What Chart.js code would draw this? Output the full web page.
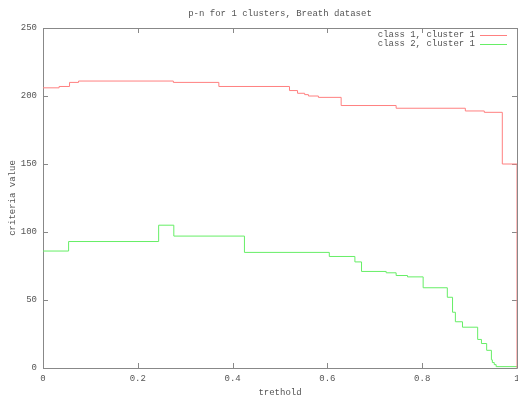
<!DOCTYPE html>
<html>
<head>
<meta charset="UTF-8">
<title>p-n for 1 clusters, Breath dataset</title>
<script src="https://cdn.jsdelivr.net/npm/chart.js"></script>
<style>
  html, body { margin: 0; padding: 0; background: #fff; }
  canvas { display: block; }
</style>
</head>
<body>
<canvas id="chart" width="518" height="398"></canvas>
<script>
  // step breakpoints (x where the new value starts) and values
  const class1X = [0, 0.034, 0.056, 0.075, 0.275, 0.371, 0.52, 0.537, 0.552, 0.56, 0.581, 0.629, 0.745, 0.891, 0.931, 0.969, 1, 1];
  const class1Y = [206, 207, 210, 211, 210, 207, 204, 202, 201, 200, 199, 193, 191, 189, 188, 150, 150, 0];
  const class2X = [0, 0.054, 0.244, 0.276, 0.425, 0.604, 0.658, 0.672, 0.724, 0.745, 0.769, 0.802, 0.853, 0.864, 0.87, 0.885, 0.917, 0.925, 0.936, 0.946, 0.948, 0.952, 0.956, 1];
  const class2Y = [86, 93, 105, 97, 85, 82, 78, 71, 70, 68, 67, 59, 52, 41, 34, 30, 21, 18, 13, 6, 4, 2.5, 1, 1];
  const labels = ['class 1, cluster 1', 'class 2, cluster 1'];
  const xTicks = [0, 0.2, 0.4, 0.6, 0.8, 1];
  const yTicks = [0, 50, 100, 150, 200, 250];

  const FONT = '"Liberation Mono", "DejaVu Sans Mono", monospace';
  const TXT = '#555';

  const pts = (xs, ys) => xs.map((x, i) => ({ x: x, y: ys[i] }));

  // gnuplot style box with inward ticks (under the lines), then title and legend on top
  const gnuplotFrame = {
    id: 'gnuplotFrame',
    beforeDatasetsDraw(chart) {
      const ctx = chart.ctx, a = chart.chartArea;
      const xs = chart.scales.x, ys = chart.scales.y;
      ctx.save();
      ctx.strokeStyle = '#888';
      ctx.lineWidth = 1;
      ctx.beginPath();
      ctx.rect(Math.round(a.left) + 0.5, Math.round(a.top) + 0.5,
               Math.round(a.right - a.left), Math.round(a.bottom - a.top));
      xTicks.forEach(v => {
        const px = Math.round(xs.getPixelForValue(v)) + 0.5;
        ctx.moveTo(px, a.bottom); ctx.lineTo(px, a.bottom - 5);
        ctx.moveTo(px, a.top); ctx.lineTo(px, a.top + 5);
      });
      yTicks.forEach(v => {
        const py = Math.round(ys.getPixelForValue(v)) + 0.5;
        ctx.moveTo(a.left, py); ctx.lineTo(a.left + 5, py);
        ctx.moveTo(a.right, py); ctx.lineTo(a.right - 5, py);
      });
      ctx.stroke();
      ctx.restore();
    },
    afterDraw(chart) {
      const ctx = chart.ctx, a = chart.chartArea;
      ctx.save();
      ctx.font = '9px ' + FONT;
      ctx.fillStyle = TXT;
      ctx.textAlign = 'center';
      ctx.textBaseline = 'middle';
      ctx.fillText('p-n for 1 clusters, Breath dataset', (a.left + a.right) / 2, 14);

      chart.data.datasets.forEach((ds, i) => {
        const y = 35 + i * 9;
        ctx.textAlign = 'right';
        ctx.fillStyle = TXT;
        ctx.fillText(ds.label, 475, y);
        ctx.strokeStyle = ds.borderColor;
        ctx.lineWidth = 1;
        ctx.beginPath();
        ctx.moveTo(480, y + 0.5); ctx.lineTo(507, y + 0.5);
        ctx.stroke();
      });
      ctx.restore();
    }
  };

  new Chart(document.getElementById('chart'), {
    type: 'line',
    data: {
      datasets: [
        { label: labels[0], data: pts(class1X, class1Y), borderColor: '#ff8080', borderWidth: 1, stepped: 'before', pointRadius: 0, fill: false },
        { label: labels[1], data: pts(class2X, class2Y), borderColor: '#66ee66', borderWidth: 1, stepped: 'before', pointRadius: 0, fill: false }
      ]
    },
    options: {
      responsive: false,
      animation: false,
      layout: { padding: { top: 28, right: 1, left: 0, bottom: 0 } },
      plugins: { legend: { display: false }, title: { display: false }, tooltip: { enabled: false } },
      scales: {
        x: {
          type: 'linear', min: 0, max: 1,
          grid: { display: false, drawTicks: false },
          border: { display: false },
          afterBuildTicks: s => { s.ticks = xTicks.map(v => ({ value: v })); },
          afterFit: s => { s.height = 30; s.paddingLeft = 0; s.paddingRight = 0; },
          ticks: { color: TXT, font: { family: FONT, size: 9 }, padding: 5, maxRotation: 0, callback: v => String(v) },
          title: { display: true, text: 'trethold', color: TXT, font: { family: FONT, size: 9 }, padding: { top: -2, bottom: 0 } }
        },
        y: {
          min: 0, max: 250,
          grid: { display: false, drawTicks: false },
          border: { display: false },
          afterBuildTicks: s => { s.ticks = yTicks.map(v => ({ value: v })); },
          afterFit: s => { s.width = 43; s.paddingTop = 0; s.paddingBottom = 0; },
          ticks: { color: TXT, font: { family: FONT, size: 9 }, padding: 6 },
          title: { display: true, text: 'criteria value', color: TXT, font: { family: FONT, size: 9 }, padding: { top: 7, bottom: 0 } }
        }
      }
    },
    plugins: [gnuplotFrame]
  });
</script>
</body>
</html>
